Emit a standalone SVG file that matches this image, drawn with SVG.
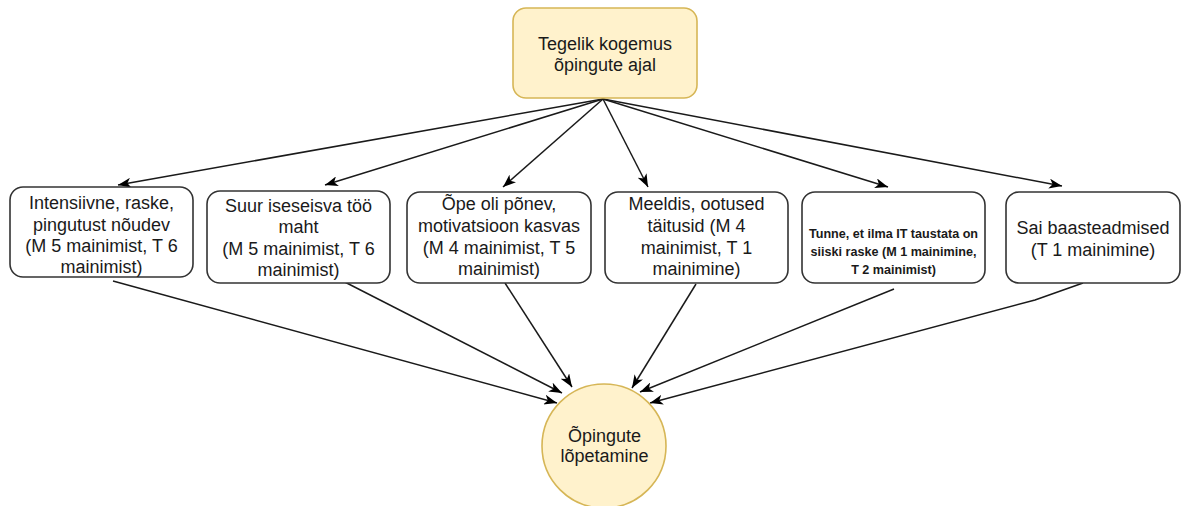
<svg xmlns="http://www.w3.org/2000/svg" width="1183" height="506" viewBox="0 0 1183 506">
  <style>
    .box { fill: #ffffff; stroke: #333333; stroke-width: 1.6; }
    .yel { fill: #fff2cc; stroke: #d6b656; stroke-width: 1.6; }
    .t { font-family: "Liberation Sans", Arial, sans-serif; font-size: 18px; fill: #1a1a1a; text-anchor: middle; }
    .s { font-family: "Liberation Sans", Arial, sans-serif; font-size: 12.6px; font-weight: bold; fill: #1a1a1a; text-anchor: middle; }
    .c { fill: none; stroke: #1a1a1a; stroke-width: 1.5; marker-end: url(#arr); }
  </style>
  <defs>
    <marker id="arr" markerUnits="userSpaceOnUse" markerWidth="13" markerHeight="10" viewBox="0 0 13 10" refX="13" refY="5" orient="auto">
      <path d="M0,0 L13,5 L0,10 L3.5,5 z" fill="#000000"/>
    </marker>
  </defs>
  <rect width="1183" height="506" fill="#ffffff"/>

  <g id="connectors">
    <line class="c" x1="603" y1="99" x2="118" y2="185"/>
    <line class="c" x1="603" y1="99" x2="325" y2="185"/>
    <line class="c" x1="603" y1="99" x2="503" y2="187"/>
    <line class="c" x1="603" y1="99" x2="648" y2="187"/>
    <line class="c" x1="603" y1="99" x2="888" y2="187"/>
    <line class="c" x1="603" y1="99" x2="1062" y2="186"/>
    <line class="c" x1="113" y1="281" x2="557" y2="403"/>
    <line class="c" x1="333" y1="276" x2="562" y2="393"/>
    <line class="c" x1="505" y1="283" x2="572" y2="387"/>
    <line class="c" x1="696" y1="284" x2="632" y2="388"/>
    <line class="c" x1="894" y1="289" x2="640" y2="392"/>
    <polyline class="c" points="1083,283 1035,300 650,403"/>
  </g>

  <g id="top">
    <rect class="yel" x="513" y="8" width="184" height="90" rx="13"/>
    <text class="t" x="605" y="50">Tegelik kogemus</text>
    <text class="t" x="605" y="71">õpingute ajal</text>
  </g>

  <g id="b1">
    <rect class="box" x="10" y="187" width="183" height="90" rx="13"/>
    <text class="t" x="101.5" y="209">Intensiivne, raske,</text>
    <text class="t" x="101.5" y="231">pingutust nõudev</text>
    <text class="t" x="101.5" y="252">(M 5 mainimist, T 6</text>
    <text class="t" x="101.5" y="273">mainimist)</text>
  </g>

  <g id="b2">
    <rect class="box" x="207" y="191" width="183" height="92" rx="13"/>
    <text class="t" x="298.5" y="212">Suur iseseisva töö</text>
    <text class="t" x="298.5" y="233">maht</text>
    <text class="t" x="298.5" y="255">(M 5 mainimist, T 6</text>
    <text class="t" x="298.5" y="276">mainimist)</text>
  </g>

  <g id="b3">
    <rect class="box" x="407" y="192" width="184" height="91" rx="13"/>
    <text class="t" x="499" y="210">Õpe oli põnev,</text>
    <text class="t" x="499" y="232">motivatsioon kasvas</text>
    <text class="t" x="499" y="254">(M 4 mainimist, T 5</text>
    <text class="t" x="499" y="275">mainimist)</text>
  </g>

  <g id="b4">
    <rect class="box" x="605" y="192" width="183" height="91" rx="13"/>
    <text class="t" x="696.5" y="210">Meeldis, ootused</text>
    <text class="t" x="696.5" y="232">täitusid (M 4</text>
    <text class="t" x="696.5" y="254">mainimist, T 1</text>
    <text class="t" x="696.5" y="275">mainimine)</text>
  </g>

  <g id="b5">
    <rect class="box" x="802" y="192" width="183" height="91" rx="13"/>
    <text class="s" x="893.5" y="238">Tunne, et ilma IT taustata on</text>
    <text class="s" x="893.5" y="256">siiski raske (M 1 mainimine,</text>
    <text class="s" x="893.5" y="274">T 2 mainimist)</text>
  </g>

  <g id="b6">
    <rect class="box" x="1006" y="192" width="174" height="91" rx="13"/>
    <text class="t" x="1093" y="234">Sai baasteadmised</text>
    <text class="t" x="1093" y="256">(T 1 mainimine)</text>
  </g>

  <g id="end">
    <circle class="yel" cx="604" cy="446" r="62"/>
    <text class="t" x="604.5" y="442">Õpingute</text>
    <text class="t" x="604.5" y="462">lõpetamine</text>
  </g>
</svg>
